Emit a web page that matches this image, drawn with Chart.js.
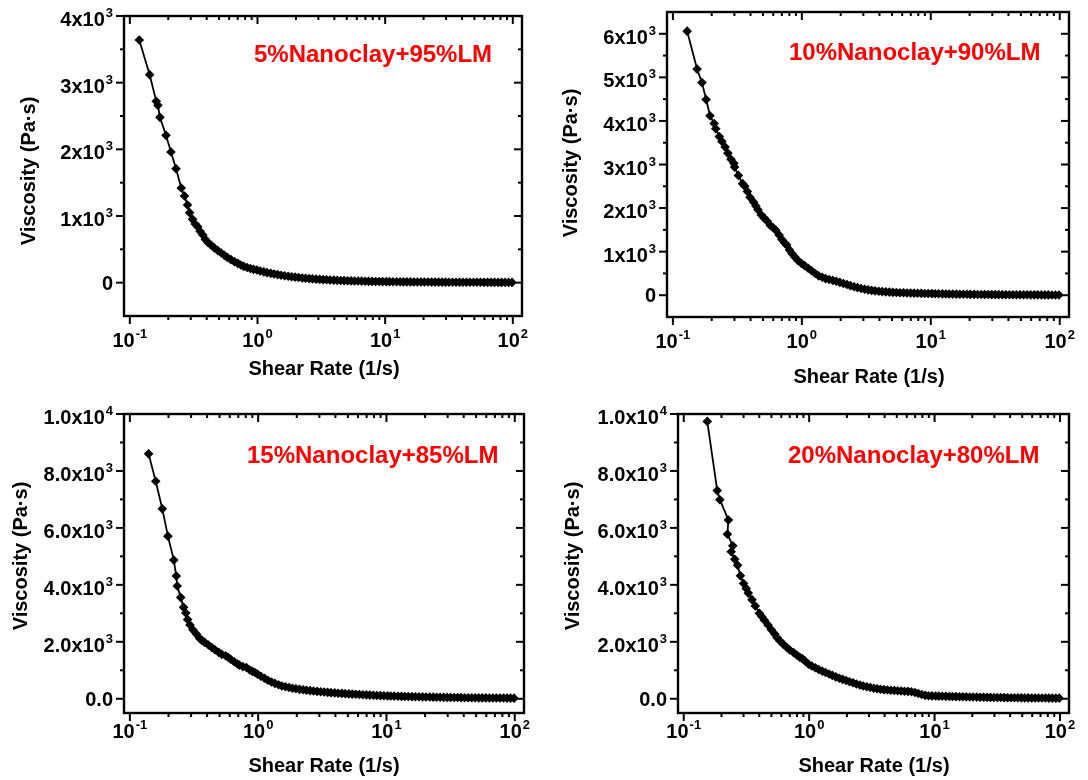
<!DOCTYPE html>
<html>
<head>
<meta charset="utf-8">
<script src="https://cdn.jsdelivr.net/npm/chart.js@4.4.1/dist/chart.umd.min.js"></script>
<style>
  body { margin: 0; background: #fff; }
  #wrap { position: relative; width: 1088px; height: 780px; }
  canvas { position: absolute; }
</style>
</head>
<body>
<div id="wrap">
  <canvas id="c1" width="544" height="390" style="left:0;top:0"></canvas>
  <canvas id="c2" width="544" height="390" style="left:544px;top:0"></canvas>
  <canvas id="c3" width="544" height="390" style="left:0;top:390px"></canvas>
  <canvas id="c4" width="544" height="390" style="left:544px;top:390px"></canvas>
</div>
<script>
// low shear part of each curve (shear rate 1/s, viscosity Pa.s)
const rates1 = [0.1185,0.143,0.161,0.166,0.172,0.192,0.21,0.23,0.253,0.268,0.283,0.294,0.31,0.325,0.34,0.355,0.373,0.39,0.41,0.435,0.46,0.49,0.52,0.55,0.58,0.62,0.66,0.70,0.74,0.78,0.83,0.88,0.93,0.99];
const visc1 = [3640,3120,2720,2660,2480,2210,1960,1710,1420,1300,1165,1050,950,880,840,770,715,650,600,560,520,480,445,410,380,345,315,290,265,245,228,212,200,190];

const rates2 = [0.129,0.154,0.168,0.181,0.194,0.209,0.215,0.229,0.240,0.254,0.267,0.282,0.297,0.301,0.322,0.347,0.361,0.378,0.396,0.422,0.44,0.457,0.485,0.51,0.539,0.57,0.60,0.628,0.667,0.70,0.735,0.763,0.802,0.84,0.879,0.93,0.993];
const visc2 = [6060,5190,4880,4490,4120,3940,3820,3640,3530,3400,3260,3120,3030,2940,2750,2560,2500,2380,2250,2140,2050,1960,1840,1770,1700,1600,1550,1490,1380,1280,1200,1150,1040,950,880,800,730];

const rates3 = [0.140,0.159,0.179,0.198,0.220,0.230,0.234,0.249,0.262,0.273,0.282,0.294,0.31,0.330,0.350,0.366,0.384,0.41,0.435,0.46,0.492,0.52,0.557,0.585,0.61,0.65,0.69,0.714,0.76,0.809,0.86,0.90,0.945,0.99];
const visc3 = [8600,7640,6670,5710,4870,4310,3960,3560,3210,3010,2780,2590,2420,2270,2120,2040,1980,1890,1800,1720,1630,1560,1510,1450,1390,1300,1220,1180,1130,1100,1010,960,920,860];

const rates4 = [0.154,0.185,0.194,0.227,0.223,0.246,0.239,0.255,0.269,0.283,0.30,0.315,0.327,0.35,0.372,0.401,0.42,0.44,0.47,0.50,0.532,0.555,0.585,0.62,0.664,0.70,0.752,0.80,0.84,0.881,0.93,0.99];
const visc4 = [9740,7310,6990,6280,5780,5370,5160,4900,4690,4320,4050,3870,3710,3480,3260,3000,2880,2760,2590,2420,2270,2140,2030,1920,1800,1710,1620,1530,1460,1410,1320,1210];

// high shear part, same shear rate steps for all samples
const tailRates = [1.05,1.12,1.19,1.27,1.35,1.44,1.53,1.63,1.74,1.85,1.97,2.1,2.24,2.38,2.54,2.7,2.88,3.07,3.27,3.48,3.7,3.95,4.2,4.48,4.77,5.08,5.41,5.76,6.14,6.54,6.97,7.42,7.9,8.42,8.97,9.55,10.2,10.8,11.5,12.3,13.1,13.9,14.8,15.8,16.8,17.9,19.1,20.3,21.7,23.1,24.6,26.2,27.9,29.7,31.6,33.7,35.9,38.2,40.7,43.4,46.2,49.2,52.4,55.8,59.5,63.4,67.5,71.9,76.6,81.6,86.9,92.6,98.6];
const tailVisc1 = [175,162,150,140,130,121,112,104,96,89,83,77,71,66,61,57,53,49,46,43,40,38,35,33,31,29,27,26,24,23,21,20,19,18,17,16,15.5,15,14,13.5,13,12.5,12,11.5,11,10.5,10,9.6,9.2,8.8,8.4,8.1,7.8,7.5,7.2,6.9,6.6,6.4,6.2,6,5.8,5.6,5.4,5.2,5,4.8,4.7,4.5,4.3,4.2,4,3.9,3.7];
const tailVisc2 = [680,620,560,500,445,410,380,360,340,320,295,270,245,220,195,175,155,137,122,110,100,90,83,77,71,66,62,58,55,52,49,47,45,43,41,39,37,35,33,31,29,27.5,26,24.5,23,22,21,20,19,18,17,16,15,14.5,14,13,12.5,12,11.5,11,10.5,10,9.5,9,8.6,8.2,7.8,7.5,7.2,6.9,6.6,6.3,6];
const tailVisc3 = [790,720,650,590,540,490,450,420,395,370,350,330,315,300,285,270,258,246,235,225,215,205,196,188,180,172,164,156,148,141,135,129,123,117,111,106,101,97,93,89,85,81,78,75,72,69,66,63,60,57,54,52,50,48,46,44,42,40,38,36.5,35,33.5,32,31,30,29,28,27,26,25,24,23,22];
const tailVisc4 = [1150,1090,1030,970,920,870,820,770,720,680,640,600,560,520,485,450,420,395,370,350,335,320,310,300,290,280,272,265,258,245,220,185,150,120,105,100,96,92,88,85,82,79,76,73,70,67,64,61,58,55,52,50,48,46,44,42,40,38,36,35,33.5,32,31,30,29,28,27,26,25,24,23,22,21];

const sampleNames = ['5%Nanoclay+95%LM', '10%Nanoclay+90%LM', '15%Nanoclay+85%LM', '20%Nanoclay+80%LM'];

const xTicks = [0.1, 1, 10, 100];
const xTickLabels = [['10','-1'], ['10','0'], ['10','1'], ['10','2']];
const xMinorSteps = [2, 3, 4, 5, 6, 7, 8, 9];

const yTicks1 = [0, 1000, 2000, 3000, 4000];
const yTickLabels1 = [['0',''], ['1x10','3'], ['2x10','3'], ['3x10','3'], ['4x10','3']];
const yTicks2 = [0, 1000, 2000, 3000, 4000, 5000, 6000];
const yTickLabels2 = [['0',''], ['1x10','3'], ['2x10','3'], ['3x10','3'], ['4x10','3'], ['5x10','3'], ['6x10','3']];
const yTicks34 = [0, 2000, 4000, 6000, 8000, 10000];
const yTickLabels34 = [['0.0',''], ['2.0x10','3'], ['4.0x10','3'], ['6.0x10','3'], ['8.0x10','3'], ['1.0x10','4']];

const FONT = 'Arial, "Liberation Sans", sans-serif';

function supText(ctx, parts, x, y, align) {
  ctx.font = 'bold 20px ' + FONT;
  const w1 = ctx.measureText(parts[0]).width;
  ctx.font = 'bold 13px ' + FONT;
  const w2 = parts[1] ? ctx.measureText(parts[1]).width + 1 : 0;
  const x0 = align == 'right' ? x - w1 - w2 : x - (w1 + w2) / 2;
  ctx.textAlign = 'left';
  ctx.textBaseline = 'alphabetic';
  ctx.font = 'bold 20px ' + FONT;
  ctx.fillText(parts[0], x0, y);
  if (parts[1]) {
    ctx.font = 'bold 13px ' + FONT;
    ctx.fillText(parts[1], x0 + w1 + 1, y - 9);
  }
}

// frame with mirrored ticks, labels and titles in Origin style
const framePlugin = {
  id: 'frame',
  afterDraw(chart, args, o) {
    const ctx = chart.ctx;
    const a = chart.chartArea;
    const xs = chart.scales.x, ys = chart.scales.y;
    ctx.save();
    ctx.strokeStyle = '#000';
    ctx.fillStyle = '#000';
    ctx.lineWidth = 2;
    ctx.lineCap = 'butt';

    function line(x1, y1, x2, y2) {
      ctx.beginPath(); ctx.moveTo(x1, y1); ctx.lineTo(x2, y2); ctx.stroke();
    }

    // x ticks
    xTicks.forEach((v, i) => {
      const px = xs.getPixelForValue(v);
      line(px, a.bottom, px, a.bottom + 8);
      line(px, a.top, px, a.top + 8);
      supText(ctx, xTickLabels[i], px, o.xLabelY, 'center');
      if (i < xTicks.length - 1) {
        xMinorSteps.forEach(s => {
          const mv = v * s;
          if (mv <= xs.min || mv >= xs.max) return;
          const mp = xs.getPixelForValue(mv);
          line(mp, a.bottom, mp, a.bottom + 4);
          line(mp, a.top, mp, a.top + 4);
        });
      }
    });

    // y ticks
    const yt = o.yTicks;
    const step = yt[1] - yt[0];
    yt.forEach((v, i) => {
      const py = ys.getPixelForValue(v);
      line(a.left - 8, py, a.left, py);
      line(a.right - 8, py, a.right, py);
      const lab = o.yLabels[i];
      supText(ctx, lab, a.left - 11, py + (lab[1] ? 10 : 7), 'right');
      [v - step / 2, v + step / 2].forEach(mv => {
        if (mv <= ys.min || mv >= ys.max) return;
        if (mv < v && i > 0) return;
        const mp = ys.getPixelForValue(mv);
        line(a.left - 4, mp, a.left, mp);
        line(a.right - 4, mp, a.right, mp);
      });
    });

    ctx.lineWidth = 2.4;
    ctx.strokeRect(a.left, a.top, a.right - a.left, a.bottom - a.top);

    // axis titles
    ctx.font = 'bold 20px ' + FONT;
    ctx.textAlign = 'center';
    ctx.textBaseline = 'alphabetic';
    ctx.fillText('Shear Rate (1/s)', o.xTitle[0], o.xTitle[1]);
    ctx.save();
    ctx.translate(o.yTitle[0], o.yTitle[1]);
    ctx.rotate(-Math.PI / 2);
    ctx.textBaseline = 'middle';
    ctx.fillText('Viscosity (Pa\u00b7s)', 0, 0);
    ctx.restore();

    // sample name
    ctx.font = 'bold 24px ' + FONT;
    ctx.fillStyle = '#ff0000';
    ctx.textAlign = 'left';
    ctx.fillText(o.name, o.note[0], o.note[1]);
    ctx.restore();
  }
};

function viscChart(id, rates, visc, tail, yMin, yMax, yTicks, yLabels, name, lay) {
  const pts = rates.map((r, i) => ({x: r, y: visc[i]}))
    .concat(tailRates.map((r, i) => ({x: r, y: tail[i]})));
  new Chart(document.getElementById(id), {
    type: 'scatter',
    data: {
      datasets: [{
        data: pts,
        showLine: true,
        borderColor: '#000',
        borderWidth: 1.8,
        tension: 0,
        pointStyle: 'rectRot',
        pointRadius: 4.8,
        pointHoverRadius: 4.8,
        pointBackgroundColor: '#000',
        pointBorderColor: '#000',
        pointBorderWidth: 0
      }]
    },
    options: {
      responsive: false,
      animation: false,
      devicePixelRatio: 1,
      layout: { padding: lay.pad },
      events: [],
      plugins: {
        legend: { display: false },
        tooltip: { enabled: false },
        frame: {
          yTicks: yTicks, yLabels: yLabels, name: name,
          xLabelY: lay.xLabelY, xTitle: lay.xTitle, yTitle: lay.yTitle, note: lay.note
        }
      },
      scales: {
        x: { type: 'logarithmic', display: false, min: 0.09, max: 118 },
        y: { type: 'linear', display: false, min: yMin, max: yMax }
      }
    },
    plugins: [framePlugin]
  });
}

viscChart('c1', rates1, visc1, tailVisc1, -500, 4000, yTicks1, yTickLabels1, sampleNames[0],
  { pad: {left: 124, right: 22, top: 16, bottom: 74}, xLabelY: 347, xTitle: [324, 375], yTitle: [29, 171], note: [254, 62] });
viscChart('c2', rates2, visc2, tailVisc2, -500, 6500, yTicks2, yTickLabels2, sampleNames[1],
  { pad: {left: 123, right: 19, top: 12, bottom: 73}, xLabelY: 348, xTitle: [325, 383], yTitle: [27, 163], note: [245, 60] });
viscChart('c3', rates3, visc3, tailVisc3, -500, 10000, yTicks34, yTickLabels34, sampleNames[2],
  { pad: {left: 124, right: 20, top: 24, bottom: 67}, xLabelY: 348, xTitle: [324, 382], yTitle: [21, 166], note: [247, 73] });
viscChart('c4', rates4, visc4, tailVisc4, -500, 10000, yTicks34, yTickLabels34, sampleNames[3],
  { pad: {left: 134, right: 19, top: 24, bottom: 67}, xLabelY: 348, xTitle: [330, 382], yTitle: [29, 166], note: [244, 73] });
</script>
</body>
</html>
